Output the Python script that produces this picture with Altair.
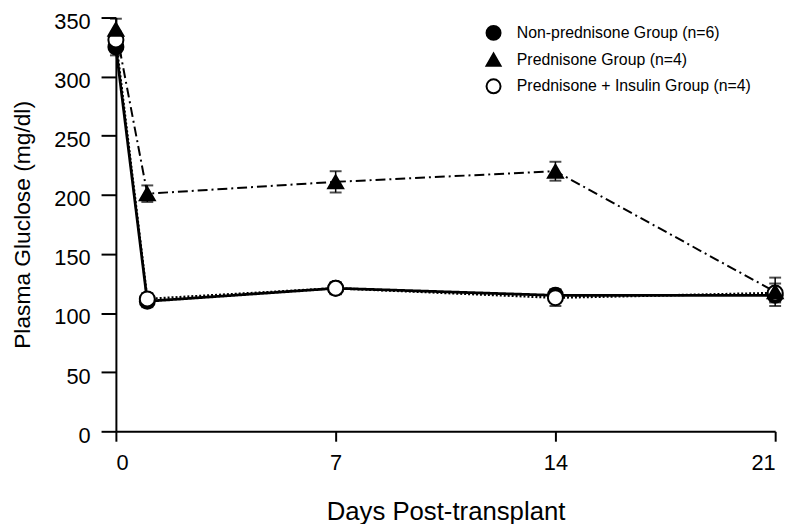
import altair as alt
import pandas as pd

days = [0, 1, 7, 14, 21]
groups = ["Non-prednisone Group (n=6)", "Prednisone Group (n=4)", "Prednisone + Insulin Group (n=4)"]
non_pred = [325, 110, 121, 115, 115]
non_pred_err = [7, 5, 5, 5, 5]
pred = [340, 201, 211, 220, 118]
pred_err = [9, 7, 9, 8, 12]
insulin = [331, 112, 121, 113, 117]
insulin_err = [7, 5, 5, 7, 8]

rows = []
for g, vals, errs in [(groups[0], non_pred, non_pred_err), (groups[1], pred, pred_err), (groups[2], insulin, insulin_err)]:
    for d, v, e in zip(days, vals, errs):
        rows.append({"day": d, "value": v, "lo": v - e, "hi": v + e, "group": g})
df = pd.DataFrame(rows)

FONT = "Liberation Sans"

x = alt.X("day:Q", scale=alt.Scale(domain=[0, 21], nice=False),
          axis=alt.Axis(values=[0, 7, 14, 21], title="Days Post-transplant"))
y = alt.Y("value:Q", scale=alt.Scale(domain=[0, 350], nice=False),
          axis=alt.Axis(values=list(range(0, 351, 50)), title="Plasma Gluclose (mg/dl)"))

base = alt.Chart(df)

styles = {groups[0]: ([1, 0], 2.8), groups[1]: ([10, 4, 2, 4], 2.0), groups[2]: ([2, 2], 2.4)}
line_layers = []
for g in groups:
    dash, w = styles[g]
    line_layers.append(
        base.transform_filter(alt.datum.group == g)
        .mark_line(color="black", strokeDash=dash, strokeWidth=w)
        .encode(x=x, y=y)
    )

rules = base.mark_rule(color="black", strokeWidth=1.5).encode(x="day:Q", y="lo:Q", y2="hi:Q")
cap_hi = base.mark_tick(orient="horizontal", color="black", size=12, thickness=2).encode(x="day:Q", y="hi:Q")
cap_lo = base.mark_tick(orient="horizontal", color="black", size=12, thickness=2).encode(x="day:Q", y="lo:Q")

legend = alt.Legend(title=None, orient="none", legendX=373, legendY=7,
                    labelFont=FONT, labelFontSize=16, labelColor="black", labelLimit=0,
                    symbolStrokeColor="black", symbolStrokeWidth=2, symbolSize=200,
                    rowPadding=5, labelOffset=15)
points = base.mark_point(size=230, strokeWidth=2, opacity=1, filled=False).encode(
    x=x, y=y,
    shape=alt.Shape("group:N", scale=alt.Scale(domain=groups, range=["circle", "triangle-up", "circle"]), legend=legend),
    fill=alt.Fill("group:N", scale=alt.Scale(domain=groups, range=["black", "black", "white"]), legend=legend),
    stroke=alt.Stroke("group:N", scale=alt.Scale(domain=groups, range=["black", "black", "black"]), legend=legend),
    order=alt.Order("group:N"),
)

chart = alt.layer(*line_layers, rules, cap_hi, cap_lo, points).properties(
    width=666, height=418,
    autosize=alt.AutoSizeParams(type="none"),
    padding={"left": 109, "top": 7, "right": 17, "bottom": 91},
    background="white",
).configure_view(stroke=None).configure_axis(
    domainColor="black", domainWidth=2, tickColor="black", tickWidth=2,
    grid=False, labelFont=FONT, labelFontSize=22, labelColor="black",
    titleFont=FONT, titleFontWeight="normal", titleColor="black",
).configure_axisY(tickSize=15, labelPadding=11, labelOffset=4, titlePadding=20, titleFontSize=23).configure_axisX(
    tickSize=10, labelPadding=12, titlePadding=25, titleFontSize=26)

chart.save("out.html", embed_options={"renderer": "svg", "actions": False})
